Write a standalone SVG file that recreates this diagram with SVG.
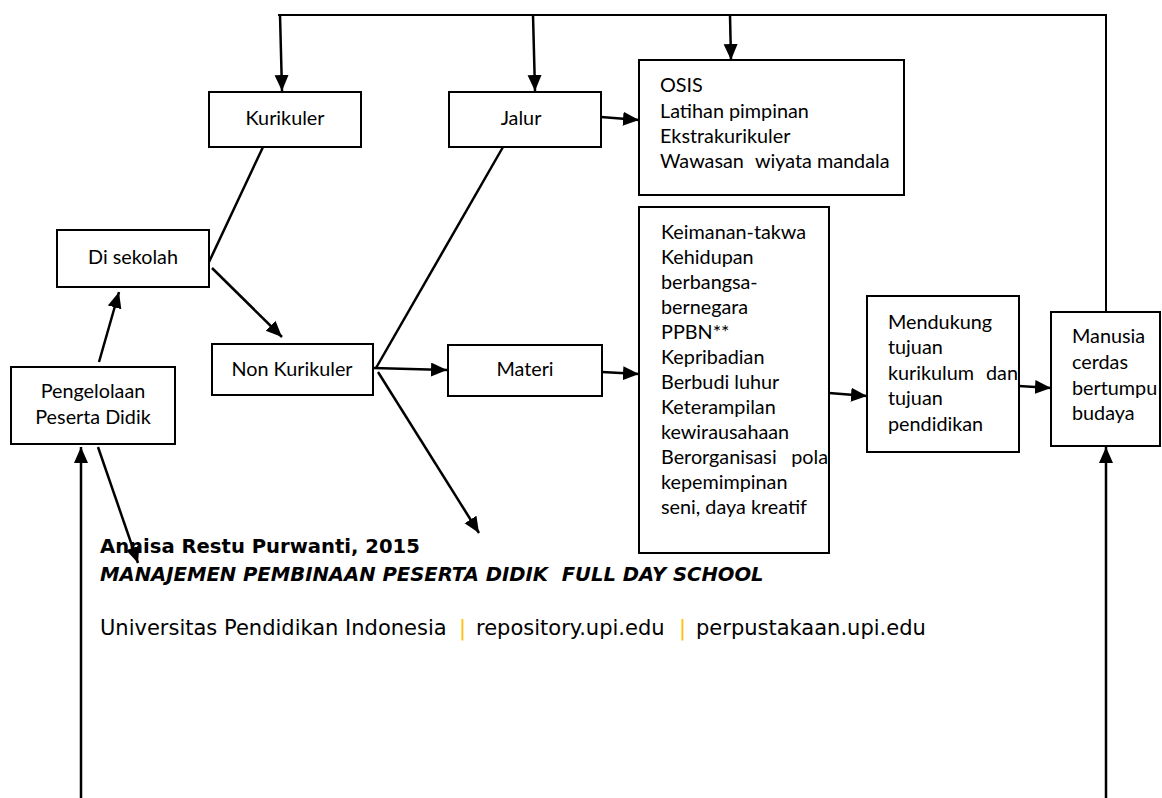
<svg xmlns="http://www.w3.org/2000/svg" width="1162" height="798" viewBox="0 0 1162 798">
  <style>
    .box { fill: #fff; stroke: #000; stroke-width: 2; }
    .lbl { font-family: Lato, "Liberation Sans", sans-serif; font-size: 19.8px; fill: #000; }
    .mid { text-anchor: middle; }
    .end { text-anchor: end; }
    .conn line { stroke: #000; stroke-width: 2.5; fill: none; }
    .foot { font-family: "DejaVu Sans", sans-serif; fill: #000; }
    .head { font-size: 19.6px; font-weight: bold; white-space: pre; }
    .repo { font-size: 21px; }
    .pipe { fill: #ffc000; }
  </style>
  <defs>
    <marker id="arr" markerUnits="userSpaceOnUse" markerWidth="17" markerHeight="15" refX="16" refY="7" orient="auto">
      <path d="M0,0 L16,7 L0,14 z" fill="#000"/>
    </marker>
  </defs>

  <rect width="1162" height="798" fill="#fff"/>

  <!-- connectors -->
  <g id="connectors" class="conn">
    <line x1="278" y1="15" x2="1106" y2="15" style="stroke-width:2"/>
    <line x1="1106" y1="14" x2="1106" y2="312" style="stroke-width:2"/>
    <line x1="280" y1="15" x2="282" y2="91" marker-end="url(#arr)"/>
    <line x1="533" y1="15" x2="535" y2="91" marker-end="url(#arr)"/>
    <line x1="730" y1="15" x2="731" y2="60" marker-end="url(#arr)"/>
    <line x1="263" y1="147" x2="209" y2="262"/>
    <line x1="212" y1="268" x2="282" y2="337" marker-end="url(#arr)"/>
    <line x1="99" y1="362" x2="119" y2="292" marker-end="url(#arr)"/>
    <line x1="81" y1="798" x2="81" y2="447" marker-end="url(#arr)"/>
    <line x1="98" y1="447" x2="138" y2="563" marker-end="url(#arr)"/>
    <line x1="601" y1="117" x2="639" y2="120" marker-end="url(#arr)"/>
    <line x1="503" y1="147" x2="376" y2="368"/>
    <line x1="373" y1="368" x2="447" y2="370" marker-end="url(#arr)"/>
    <line x1="378" y1="372" x2="479" y2="533" marker-end="url(#arr)"/>
    <line x1="602" y1="372" x2="639" y2="374" marker-end="url(#arr)"/>
    <line x1="829" y1="393" x2="867" y2="396" marker-end="url(#arr)"/>
    <line x1="1019" y1="386" x2="1051" y2="388" marker-end="url(#arr)"/>
    <line x1="1106" y1="798" x2="1106" y2="447" marker-end="url(#arr)"/>
  </g>

  <g id="kurikuler">
    <rect class="box" x="209" y="92" width="152" height="55"/>
    <text class="lbl mid" x="285" y="125">Kurikuler</text>
  </g>

  <g id="jalur">
    <rect class="box" x="449" y="92" width="152" height="55"/>
    <text class="lbl mid" x="521" y="125">Jalur</text>
  </g>

  <g id="osis">
    <rect class="box" x="639" y="60" width="265" height="135"/>
    <text class="lbl" x="660" y="92">OSIS</text>
    <text class="lbl" x="660" y="118">Latihan pimpinan</text>
    <text class="lbl" x="660" y="143">Ekstrakurikuler</text>
    <text class="lbl" x="660" y="168">Wawasan</text>
    <text class="lbl" x="755" y="168">wiyata mandala</text>
  </g>

  <g id="di-sekolah">
    <rect class="box" x="57" y="230" width="152" height="57"/>
    <text class="lbl mid" x="133" y="264">Di sekolah</text>
  </g>

  <g id="non-kurikuler">
    <rect class="box" x="212" y="344" width="161" height="51"/>
    <text class="lbl mid" x="292" y="376">Non Kurikuler</text>
  </g>

  <g id="pengelolaan">
    <rect class="box" x="11" y="367" width="164" height="77"/>
    <text class="lbl mid" x="93" y="398">Pengelolaan</text>
    <text class="lbl mid" x="93" y="424">Peserta Didik</text>
  </g>

  <g id="materi">
    <rect class="box" x="448" y="345" width="154" height="51"/>
    <text class="lbl mid" x="525" y="376">Materi</text>
  </g>

  <g id="materi-isi">
    <rect class="box" x="639" y="207" width="190" height="346"/>
    <text class="lbl" x="661" y="239">Keimanan-takwa</text>
    <text class="lbl" x="661" y="264">Kehidupan</text>
    <text class="lbl" x="661" y="289">berbangsa-</text>
    <text class="lbl" x="661" y="314">bernegara</text>
    <text class="lbl" x="661" y="339">PPBN**</text>
    <text class="lbl" x="661" y="364">Kepribadian</text>
    <text class="lbl" x="661" y="389">Berbudi luhur</text>
    <text class="lbl" x="661" y="414">Keterampilan</text>
    <text class="lbl" x="661" y="439">kewirausahaan</text>
    <text class="lbl" x="661" y="464">Berorganisasi</text>
    <text class="lbl end" x="828" y="464">pola</text>
    <text class="lbl" x="661" y="489">kepemimpinan</text>
    <text class="lbl" x="661" y="514">seni, daya kreatif</text>
  </g>

  <g id="mendukung">
    <rect class="box" x="867" y="296" width="152" height="156"/>
    <text class="lbl" x="888" y="329">Mendukung</text>
    <text class="lbl" x="888" y="354">tujuan</text>
    <text class="lbl" x="888" y="380">kurikulum</text>
    <text class="lbl end" x="1018" y="380">dan</text>
    <text class="lbl" x="888" y="405">tujuan</text>
    <text class="lbl" x="888" y="431">pendidikan</text>
  </g>

  <g id="manusia">
    <rect class="box" x="1051" y="312" width="109" height="134"/>
    <text class="lbl" x="1072" y="343">Manusia</text>
    <text class="lbl" x="1072" y="369">cerdas</text>
    <text class="lbl" x="1072" y="395">bertumpu</text>
    <text class="lbl" x="1072" y="420">budaya</text>
  </g>

  <!-- page footer -->
  <g id="footer">
    <text class="foot head" x="100" y="553">Annisa Restu Purwanti, 2015</text>
    <text class="foot head" x="100" y="581" font-style="italic" xml:space="preserve">MANAJEMEN PEMBINAAN PESERTA DIDIK  FULL DAY SCHOOL</text>
    <text class="foot repo" y="635">
      <tspan x="100">Universitas Pendidikan Indonesia</tspan>
      <tspan class="pipe" x="459">|</tspan>
      <tspan x="476">repository.upi.edu</tspan>
      <tspan class="pipe" x="679">|</tspan>
      <tspan x="696">perpustakaan.upi.edu</tspan>
    </text>
  </g>
</svg>
